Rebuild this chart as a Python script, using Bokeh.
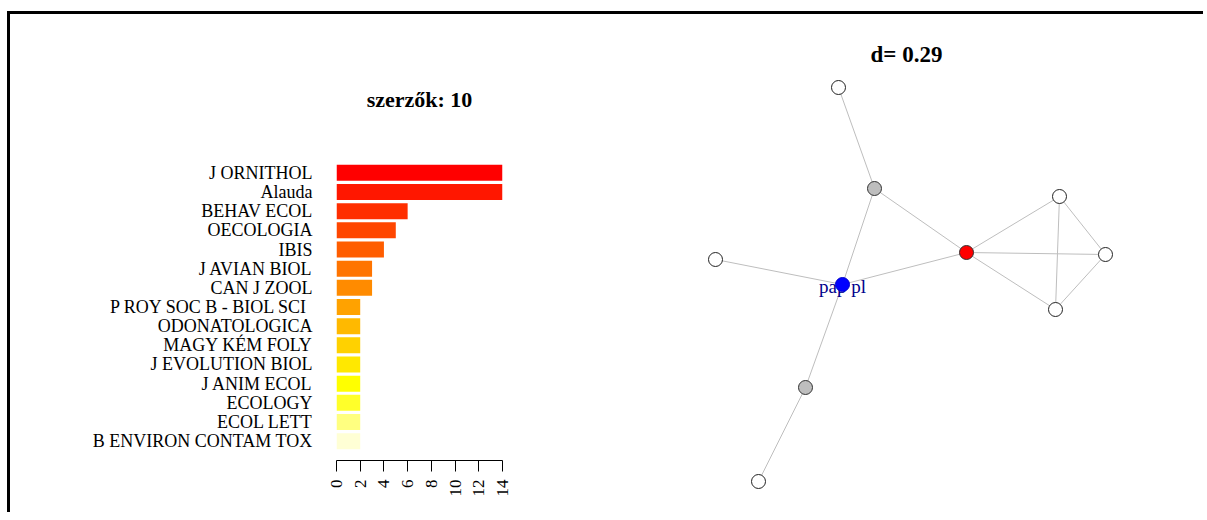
import math
from bokeh.plotting import figure
from bokeh.models import FactorRange, Range1d, Spacer, ColumnDataSource, FixedTicker
from bokeh.layouts import row, column
from bokeh.embed import file_html
from bokeh.resources import INLINE
from bokeh.core.properties import value

# ---------------- data: bar chart ----------------
bar_title = "szerzők: 10"
journals = ["J ORNITHOL", "Alauda", "BEHAV ECOL", "OECOLOGIA", "IBIS",
            "J AVIAN BIOL", "CAN J ZOOL", "P ROY SOC B - BIOL SCI ",
            "ODONATOLOGICA", "MAGY KÉM FOLY", "J EVOLUTION BIOL",
            "J ANIM ECOL", "ECOLOGY", "ECOL LETT", "B ENVIRON CONTAM TOX"]
counts = [14, 14, 6, 5, 4, 3, 3, 2, 2, 2, 2, 2, 2, 2, 2]
bar_colors = ["#FF0000", "#FF1700", "#FF2E00", "#FF4600", "#FF5D00",
              "#FF7400", "#FF8B00", "#FFA200", "#FFB900", "#FFD100",
              "#FFE800", "#FFFF00", "#FFFF2A", "#FFFF80", "#FFFFD5"]
x_ticks = [0, 2, 4, 6, 8, 10, 12, 14]

# ---------------- data: network ----------------
net_title = "d= 0.29"
node_x = [-0.71, -0.35, 0.57, -0.67, -1.94, 1.50, 1.96, 1.46, -1.04, -1.51]
node_y = [1.83, 0.82, 0.18, -0.14, 0.11, 0.74, 0.16, -0.39, -1.17, -2.11]
node_fill = ["white", "#BEBEBE", "#FF0000", "#0000FF", "white",
             "white", "white", "white", "#BEBEBE", "white"]
node_line = ["#222222", "#333333", "#333333", "#0000CC", "#222222",
             "#222222", "#222222", "#222222", "#333333", "#222222"]
edge_from = [0, 1, 1, 3, 3, 3, 8, 2, 2, 2, 5, 5, 6]
edge_to   = [1, 2, 3, 4, 2, 8, 9, 5, 6, 7, 6, 7, 7]
label_node = 3
label_text = "pap pl"

SERIF = "Liberation Serif"
H = 498

# ---------------- bar chart ----------------
src = ColumnDataSource(dict(journal=journals, count=counts, color=bar_colors))
p1 = figure(width=590, height=H,
            y_range=FactorRange(factors=journals[::-1], range_padding=0.51,
                                range_padding_units="absolute"),
            x_range=Range1d(0, 14),
            output_backend="svg", toolbar_location=None,
            min_border_left=326, min_border_right=98,
            min_border_top=139, min_border_bottom=52)
p1.frame_align = False
p1.hbar(y="journal", right="count", left=0, height=0.833,
        fill_color="color", line_color=None, source=src)
p1.grid.visible = False
p1.outline_line_color = None
p1.background_fill_color = "white"

p1.title.text = bar_title
p1.title.align = "center"
p1.title.text_font = SERIF
p1.title.text_font_size = "22px"
p1.title.text_font_style = "bold"
p1.title.text_color = "black"
p1.title.standoff = 83

xa = p1.xaxis[0]
xa.ticker = FixedTicker(ticks=x_ticks)
xa.major_label_orientation = math.pi / 2
xa.major_tick_out = 11
xa.major_tick_in = 0
xa.minor_tick_out = 0
xa.minor_tick_in = 0
xa.axis_line_color = "black"
xa.major_tick_line_color = "black"
xa.major_label_text_font = SERIF
xa.major_label_text_font_size = "17px"
xa.major_label_text_color = "black"
xa.major_label_standoff = 8

ya = p1.yaxis[0]
ya.axis_line_color = None
ya.major_tick_line_color = None
ya.minor_tick_line_color = None
ya.major_tick_in = 0
ya.major_tick_out = 0
ya.major_label_text_font = SERIF
ya.major_label_text_font_size = "18px"
ya.major_label_text_color = "black"
ya.major_label_standoff = 24

# ---------------- network ----------------
p2 = figure(width=593, height=H,
            x_range=Range1d(-2.9, 2.84), y_range=Range1d(-2.42, 2.0),
            x_axis_location=None, y_axis_location=None,
            output_backend="svg", toolbar_location=None,
            min_border_left=19, min_border_right=0,
            min_border_top=56, min_border_bottom=0)
p2.frame_align = False
p2.grid.visible = False
p2.outline_line_color = None
p2.title.text = net_title
p2.title.align = "center"
p2.title.text_font = SERIF
p2.title.text_font_size = "23px"
p2.title.text_font_style = "bold"
p2.title.text_color = "black"
p2.title.standoff = 7

p2.segment(x0=[node_x[i] for i in edge_from], y0=[node_y[i] for i in edge_from],
           x1=[node_x[i] for i in edge_to], y1=[node_y[i] for i in edge_to],
           line_color="#BEBEBE", line_width=1)
p2.text(x=[node_x[label_node]], y=[node_y[label_node]], text=[label_text],
        text_align="center", text_baseline="middle", y_offset=2,
        text_font=value(SERIF), text_font_size="19px", text_color="#00008B")
p2.scatter(x=node_x, y=node_y, size=14, fill_color=node_fill,
           line_color=node_line, line_width=1)

# ---------------- frame lines ----------------
top_gap = Spacer(width=1193, height=11)
top_line = Spacer(width=1196, height=3, margin=(0, 0, 0, 7),
                  styles={"background-color": "black"})
left_line = Spacer(width=3, height=H, styles={"background-color": "black"})

layout = column(top_gap, top_line, row(Spacer(width=7, height=H), left_line, p1, p2))

with open("out.html", "w") as f:
    f.write(file_html(layout, INLINE))
